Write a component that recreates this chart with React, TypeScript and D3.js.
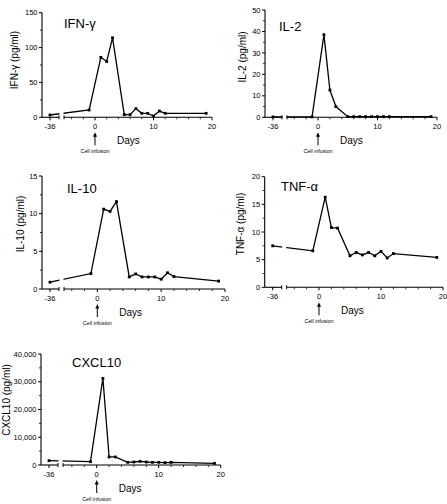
import React from "react";
import * as d3 from "d3";

const DAYS = [-36, -1, 1, 2, 3, 5, 6, 7, 8, 9, 10, 11, 12, 19];
const IFNG = [3.3, 10.5, 86, 80, 114, 3.8, 3.8, 12.4, 5.7, 5.7, 1.9, 9, 5.7, 5.7];
const IL2 = [0.2, 0.2, 38.5, 12.7, 5, 0.3, 0.3, 0.3, 0.3, 0.3, 0.3, 0.3, 0.3, 0.3];
const IL10 = [0.9, 2.05, 10.6, 10.3, 11.6, 1.6, 2.0, 1.6, 1.6, 1.6, 1.3, 2.15, 1.65, 1.05];
const TNFA = [7.5, 6.6, 16.3, 10.8, 10.7, 5.7, 6.3, 5.85, 6.3, 5.7, 6.5, 5.3, 6.1, 5.4];
const CXCL10 = [1560, 1200, 31200, 2900, 2900, 960, 1080, 1320, 1080, 960, 960, 840, 960, 600];

const X_MAJOR = [0, 10, 20];
const X_MINOR = [-4, -2, 2, 4, 6, 8, 12, 14, 16, 18];
const BREAK_TICK = -36;

const IFNG_TICKS = [0, 50, 100, 150];
const IL2_TICKS = [0, 10, 20, 30, 40, 50];
const IL10_TICKS = [0, 5, 10, 15];
const TNFA_TICKS = [0, 5, 10, 15, 20];
const CXCL10_TICKS = [0, 10000, 20000, 30000, 40000];

const FONT = "'Liberation Sans', Arial, Helvetica, sans-serif";

type PanelProps = {
  id: string;
  title: string;
  yLabel: string;
  values: number[];
  yTicks: number[];
  minorStep: number;
  axisX: number;
  x0: number;
  x20: number;
  yTop: number;
  yBottom: number;
  titleX: number;
  titleY: number;
  labelX: number;
  labelY: number;
  fmt: (v: number) => string;
};

function Panel(p: PanelProps) {
  const x = d3.scaleLinear().domain([0, 20]).range([p.x0, p.x20]);
  const yMax = p.yTicks[p.yTicks.length - 1];
  const y = d3.scaleLinear().domain([0, yMax]).range([p.yBottom, p.yTop]);
  const breakX = p.axisX + 8;
  const seg1End = p.axisX + 17;
  const seg2Start = p.axisX + 22;
  const px = (d: number) => (d === BREAK_TICK ? breakX : x(d));
  const pts: [number, number][] = DAYS.map((d, i) => [px(d), y(p.values[i])]);
  const line = d3.line()(pts) || "";
  const minorY = d3.range(0, yMax + 1e-9, p.minorStep).filter((v) => !p.yTicks.includes(v));
  const ax = p.yBottom;
  const clipId = `clip-${p.id}`;
  return (
    <g>
      <defs>
        <clipPath id={clipId}>
          <rect x={0} y={0} width={seg1End + 0.5} height={504} />
          <rect x={seg2Start - 0.5} y={0} width={447} height={504} />
        </clipPath>
      </defs>
      {/* y axis */}
      <line x1={p.axisX} x2={p.axisX} y1={p.yTop} y2={ax} stroke="#000" strokeWidth={1.1} />
      {p.yTicks.map((t) => (
        <g key={"yt" + t}>
          <line x1={p.axisX - 3} x2={p.axisX} y1={y(t)} y2={y(t)} stroke="#000" strokeWidth={1} />
          <text x={p.axisX - 4.5} y={y(t)} dy="0.35em" textAnchor="end" fontSize={7.5} fontFamily={FONT}>
            {p.fmt(t)}
          </text>
        </g>
      ))}
      {minorY.map((t) => (
        <line key={"ym" + t} x1={p.axisX - 2} x2={p.axisX} y1={y(t)} y2={y(t)} stroke="#000" strokeWidth={0.8} />
      ))}
      {/* x axis segment 1 */}
      <line x1={p.axisX} x2={seg1End} y1={ax} y2={ax} stroke="#000" strokeWidth={1.1} />
      <line x1={breakX} x2={breakX} y1={ax} y2={ax + 3} stroke="#000" strokeWidth={1} />
      <line x1={seg1End} x2={seg1End} y1={ax - 2} y2={ax + 2} stroke="#000" strokeWidth={1} />
      <text x={breakX} y={ax + 12} textAnchor="middle" fontSize={7.5} fontFamily={FONT}>
        -36
      </text>
      {/* x axis segment 2 */}
      <line x1={seg2Start} x2={x(20)} y1={ax} y2={ax} stroke="#000" strokeWidth={1.1} />
      <line x1={seg2Start} x2={seg2Start} y1={ax - 2} y2={ax + 2} stroke="#000" strokeWidth={1} />
      {X_MAJOR.map((t) => (
        <g key={"xt" + t}>
          <line x1={x(t)} x2={x(t)} y1={ax} y2={ax + 3} stroke="#000" strokeWidth={1} />
          <text x={x(t)} y={ax + 12} textAnchor="middle" fontSize={7.5} fontFamily={FONT}>
            {t}
          </text>
        </g>
      ))}
      {X_MINOR.filter((t) => x(t) > seg2Start + 2).map((t) => (
        <line key={"xm" + t} x1={x(t)} x2={x(t)} y1={ax} y2={ax + 2} stroke="#000" strokeWidth={0.8} />
      ))}
      <text x={x(0) + 22} y={ax + 27} fontSize={10} fontFamily={FONT}>
        Days
      </text>
      {/* arrow */}
      <line x1={x(0)} x2={x(0)} y1={ax + 18} y2={ax + 28} stroke="#000" strokeWidth={1} />
      <path d={`M${x(0)},${ax + 15} L${x(0) - 2},${ax + 19.5} L${x(0) + 2},${ax + 19.5} Z`} fill="#000" />
      <text x={x(0)} y={ax + 36} textAnchor="middle" fontSize={5.3} fontFamily={FONT}>
        Cell infusion
      </text>
      {/* data */}
      <path d={line} fill="none" stroke="#000" strokeWidth={1.3} clipPath={`url(#${clipId})`} />
      {pts.map(([cx, cy], i) => (
        <rect key={"pt" + i} x={cx - 1.4} y={cy - 1.4} width={2.8} height={2.8} fill="#000" />
      ))}
      {/* labels */}
      <text x={p.titleX} y={p.titleY} fontSize={13} fontFamily={FONT}>
        {p.title}
      </text>
      <text
        transform={`translate(${p.labelX},${p.labelY}) rotate(-90)`}
        textAnchor="middle"
        dy="0.35em"
        fontSize={10}
        fontFamily={FONT}
      >
        {p.yLabel}
      </text>
    </g>
  );
}

const fmtPlain = (v: number) => d3.format("d")(v);
const fmtComma = (v: number) => d3.format(",")(v);

export default function App() {
  return (
    <svg
      width={447}
      height={504}
      style={{ position: "absolute", left: 0, top: 0, background: "#fff" }}
    >
      <rect x={0} y={0} width={447} height={504} fill="#fff" />
      <Panel id="ifng" title="IFN-γ" yLabel="IFN-γ (pg/ml)" values={IFNG} yTicks={IFNG_TICKS} minorStep={25}
        axisX={42} x0={95} x20={212} yTop={12.7} yBottom={117.3} titleX={64} titleY={28.3} labelX={14} labelY={60} fmt={fmtPlain} />
      <Panel id="il2" title="IL-2" yLabel="IL-2 (pg/ml)" values={IL2} yTicks={IL2_TICKS} minorStep={5}
        axisX={265} x0={318} x20={437} yTop={10} yBottom={117.3} titleX={279} titleY={30.7} labelX={242} labelY={57} fmt={fmtPlain} />
      <Panel id="il10" title="IL-10" yLabel="IL-10 (pg/ml)" values={IL10} yTicks={IL10_TICKS} minorStep={2.5}
        axisX={42} x0={97.3} x20={225} yTop={176} yBottom={289} titleX={67} titleY={193.3} labelX={20} labelY={224} fmt={fmtPlain} />
      <Panel id="tnfa" title="TNF-α" yLabel="TNF-α (pg/ml)" values={TNFA} yTicks={TNFA_TICKS} minorStep={2.5}
        axisX={264.7} x0={319} x20={443} yTop={176.7} yBottom={287.3} titleX={281} titleY={191} labelX={240} labelY={224} fmt={fmtPlain} />
      <Panel id="cxcl10" title="CXCL10" yLabel="CXCL10 (pg/ml)" values={CXCL10} yTicks={CXCL10_TICKS} minorStep={5000}
        axisX={41} x0={96.7} x20={220.7} yTop={354} yBottom={465} titleX={72} titleY={367} labelX={6} labelY={400} fmt={fmtComma} />
    </svg>
  );
}
